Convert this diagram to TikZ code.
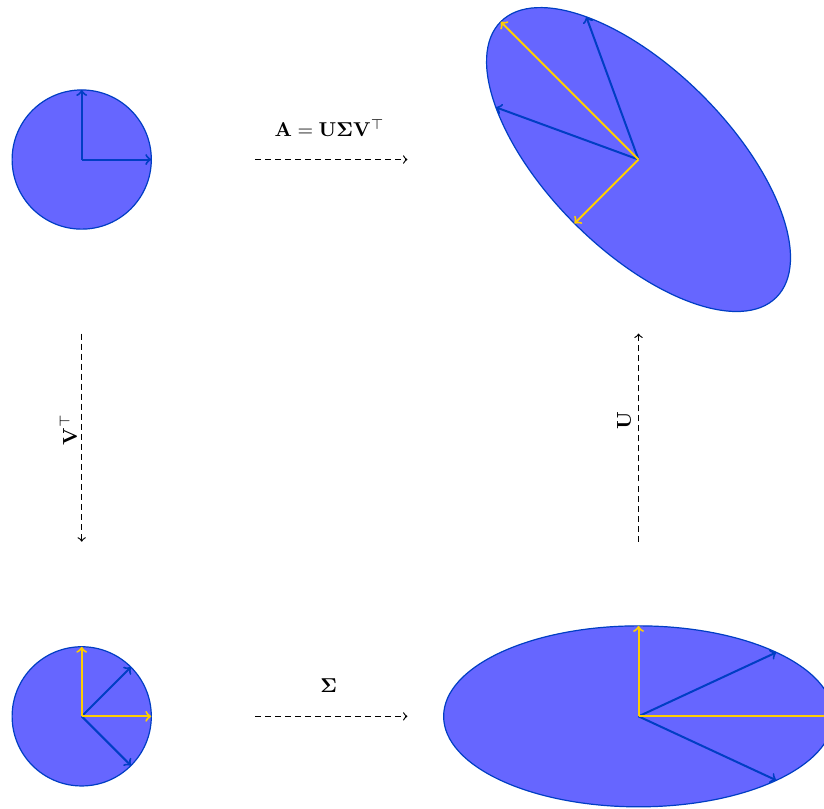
\documentclass[tikz,border=0pt]{standalone}
\usepackage{amsmath,amssymb}
\usepackage{bm}
\usepackage{tikz}
\usetikzlibrary{arrows,positioning}
\usepackage{xcolor}

\definecolor{discblue}{RGB}{102,102,255}
\definecolor{edgeblue}{RGB}{0,62,196}
\definecolor{axisyellow}{RGB}{255,206,0}

\begin{document}
\begin{tikzpicture}[x=1.22cm, y=1.22cm,
  disc/.style={draw=edgeblue, fill=discblue, semithick},
  vec/.style={->, line width=1pt, edgeblue},
  axis/.style={->, line width=1pt, axisyellow},
  map/.style={->, semithick, densely dashed}]

  \useasboundingbox (-1.174,-9.318) rectangle (10.665,2.292);

  % Centros
  \coordinate (x) at (0,0);
  \coordinate (vx) at (0,-8);
  \coordinate (svx) at (8,-8);
  \coordinate (usvx) at (8,0);

  % Circulo unitario
  \draw[disc] (x) circle (1);
  \draw[vec] (x) -- ++(1,0);
  \draw[vec] (x) -- ++(0,1);

  % V^T x
  \draw[disc] (vx) circle (1);
  \draw[vec] (vx) -- ++(45:1);
  \draw[vec] (vx) -- ++(-45:1);
  \draw[axis] (vx) -- ++(1,0);
  \draw[axis] (vx) -- ++(0,1);

  % Sigma V^T x
  \draw[disc] (svx) ellipse (2.8 and 1.3);
  \draw[vec] (svx) -- ++(1.98,0.919);
  \draw[vec] (svx) -- ++(1.98,-0.919);
  \draw[axis] (svx) -- ++(2.8,0);
  \draw[axis] (svx) -- ++(0,1.3);

  % U Sigma V^T x
  \begin{scope}[shift={(usvx)}, rotate=135]
    \draw[disc] (0,0) ellipse (2.8 and 1.3);
    \draw[vec] (0,0) -- (1.98,0.919);
    \draw[vec] (0,0) -- (1.98,-0.919);
    \draw[axis] (0,0) -- (2.8,0);
    \draw[axis] (0,0) -- (0,1.3);
  \end{scope}

  % Extremos de las flechas
  \coordinate (a1) at (2.49,0);
  \coordinate (a2) at (4.68,0);
  \coordinate (s1) at (2.49,-8);
  \coordinate (s2) at (4.68,-8);
  \coordinate (v1) at (0,-2.5);
  \coordinate (v2) at (0,-5.49);
  \coordinate (u1) at (8,-5.49);
  \coordinate (u2) at (8,-2.5);

  \draw[map] (a1) -- (a2);
  \draw[map] (s1) -- (s2);
  \draw[map] (v1) -- (v2);
  \draw[map] (u1) -- (u2);

  % Etiquetas
  \node[anchor=base] (lA) at (3.56,0.33) {$\mathbf{A} = \mathbf{U}\bm{\Sigma}\mathbf{V}^{\top}$};
  \node[anchor=base] (lS) at (3.55,-7.664) {$\bm{\Sigma}$};
  \node[anchor=base, rotate=90] (lV) at (-0.07,-3.88) {$\mathbf{V}^{\top}$};
  \node[anchor=base, rotate=90] (lU) at (7.89,-3.75) {$\mathbf{U}$};
\end{tikzpicture}
\end{document}
